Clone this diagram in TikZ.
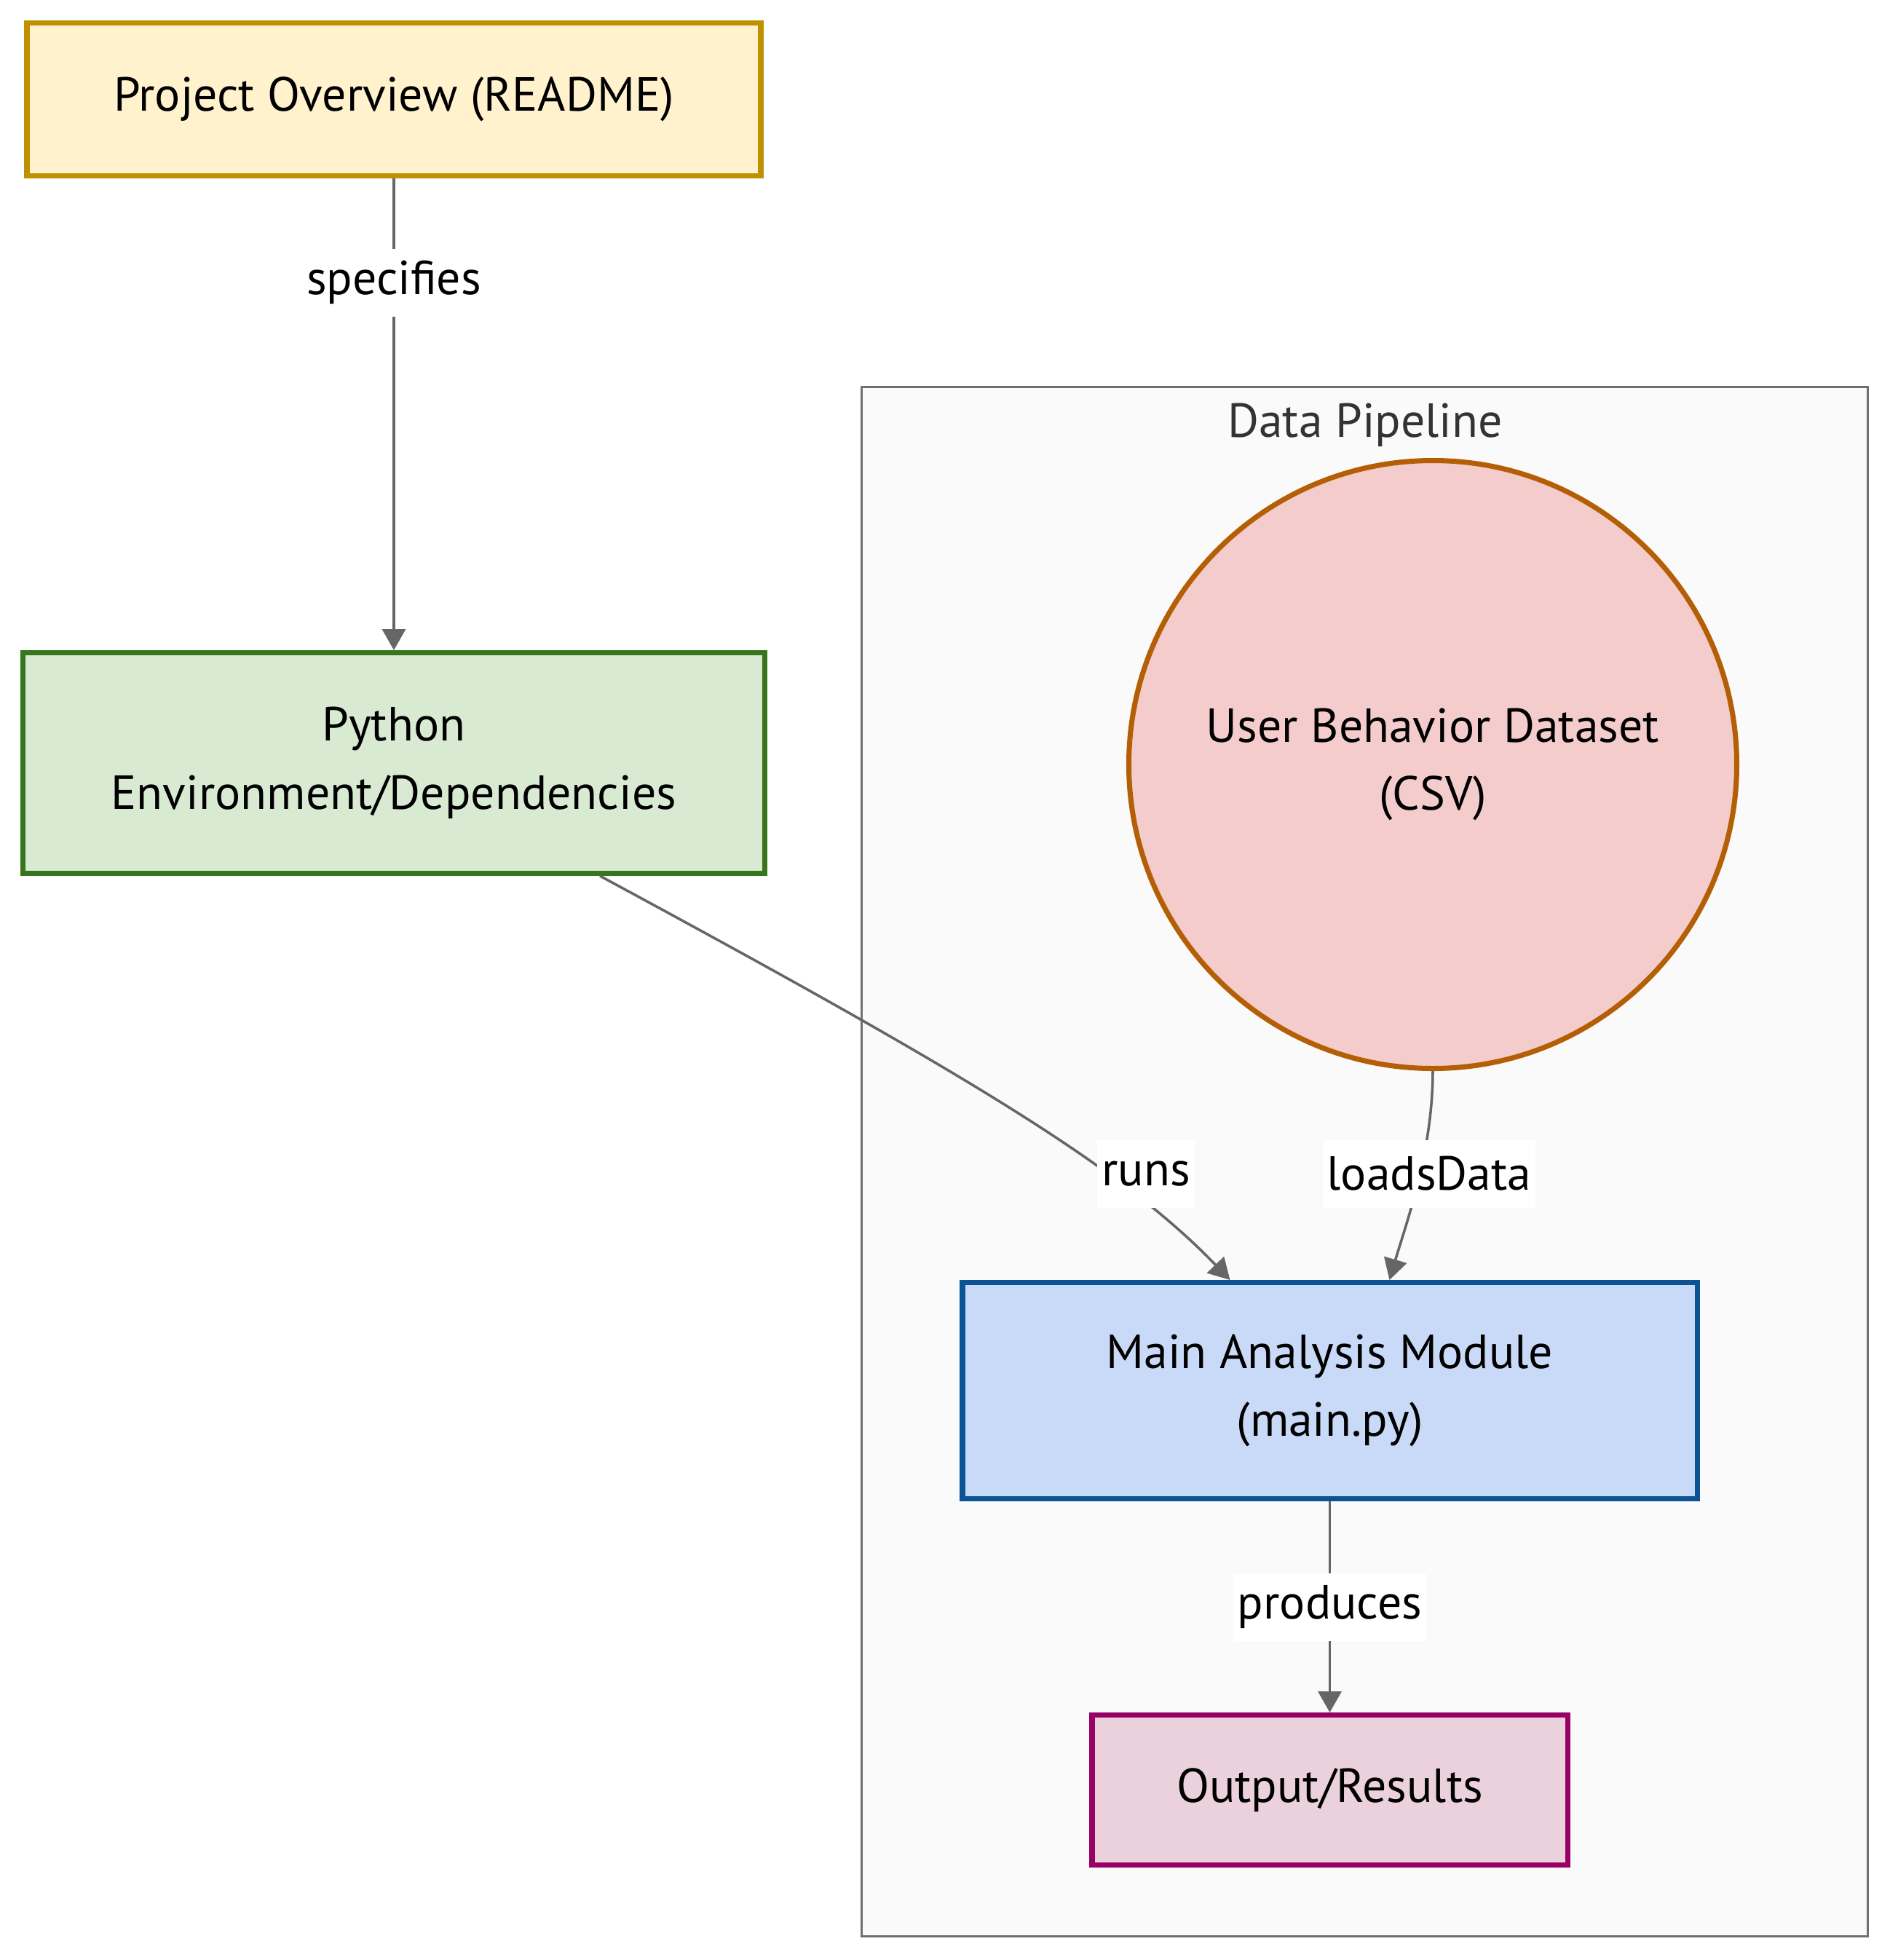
\documentclass[tikz,border=0pt]{standalone}
\usepackage{fontspec}
\setmainfont{PT Sans}
\usetikzlibrary{arrows.meta}
\definecolor{readmefill}{HTML}{FFF2CC}
\definecolor{readmeline}{HTML}{BF9000}
\definecolor{envfill}{HTML}{D9EAD3}
\definecolor{envline}{HTML}{38761D}
\definecolor{datafill}{HTML}{F4CCCC}
\definecolor{dataline}{HTML}{B45F06}
\definecolor{mainfill}{HTML}{C9DAF8}
\definecolor{mainline}{HTML}{0B5394}
\definecolor{outfill}{HTML}{EAD1DC}
\definecolor{outline}{HTML}{990066}
\definecolor{edgegray}{HTML}{666666}
\definecolor{pipefill}{HTML}{FAFAFA}
\definecolor{pipeline}{HTML}{707070}
\definecolor{titlegray}{HTML}{333333}

\begin{document}
\begin{tikzpicture}[
  every node/.style={font=\fontsize{18.7}{26.6}\selectfont},
  box/.style={draw, line width=2pt, align=center, inner sep=0pt},
  link/.style={draw=edgegray, line width=1pt, -{Triangle[length=0.29cm,width=0.32cm]}},
  tag/.style={fill=white, inner sep=0.06cm, minimum height=0.93cm}
 ]
 \fill[white] (0,0) rectangle (25.96,-26.92);
 \useasboundingbox (0,0) rectangle (25.96,-26.92);

 \node[draw=pipeline, fill=pipefill, line width=1pt, minimum width=13.82cm, minimum height=21.28cm] (pipe) at (18.745,-15.955) {};
 \node[text=titlegray] (pipetitle) at (18.75,-5.84) {Data Pipeline};

 \node[box, fill=readmefill, draw=readmeline, minimum width=10.08cm, minimum height=2.10cm] (readme) at (5.41,-1.365) {Project Overview (README)};
 \node[box, fill=envfill, draw=envline, minimum width=10.19cm, minimum height=3.03cm] (env) at (5.41,-10.48) {Python\\Environment/Dependencies};
 \node[box, circle, fill=datafill, draw=dataline, minimum size=8.35cm] (data) at (19.68,-10.50) {User Behavior Dataset\\(CSV)};
 \node[box, fill=mainfill, draw=mainline, minimum width=10.09cm, minimum height=2.97cm] (main) at (18.265,-19.10) {Main Analysis Module\\(main.py)};
 \node[box, fill=outfill, draw=outline, minimum width=6.53cm, minimum height=2.06cm] (out) at (18.265,-24.585) {Output/Results};

 \draw[link] (readme) -- (env);
 \draw[link] ([xshift=-2.3cm]env.south east) .. controls +(5,-2.7) and +(-1.5,1.56) .. ([xshift=-1.37cm]main.north);
 \draw[link] (data.south) .. controls +(0,-1.1) and +(0.23,0.78) .. ([xshift=0.82cm]main.north);
 \draw[link] (main) -- (out);

 \node[tag] (lspec) at (5.41,-3.88) {specifies};
 \node[tag] (lruns) at (15.74,-16.12) {runs};
 \node[tag] (lload) at (19.63,-16.12) {loadsData};
 \node[tag] (lprod) at (18.265,-22.07) {produces};
\end{tikzpicture}
\end{document}
